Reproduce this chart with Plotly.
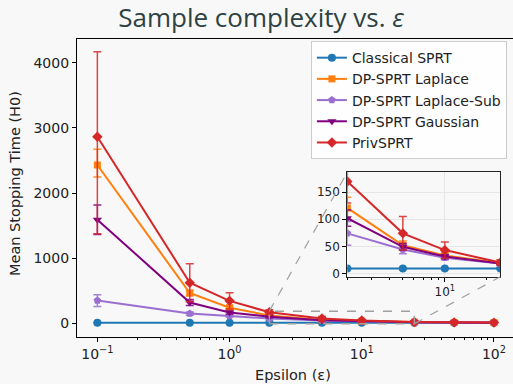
import math
import plotly.graph_objects as go

# ---------------- data ----------------
epsilons = [0.1, 0.5, 1, 2, 5, 10, 25, 50, 100]

series_names = ["Classical SPRT", "DP-SPRT Laplace", "DP-SPRT Laplace-Sub",
                "DP-SPRT Gaussian", "PrivSPRT"]

classical = [9, 9, 9, 9, 9, 9, 9, 9, 9]
classical_err = [1, 1, 1, 1, 1, 1, 1, 1, 1]

laplace = [2430, 465, 240, 121, 52, 33, 19, 14, 11]
laplace_err_up = [240, 40, 25, 20, 8, 5, 3, 2, 1]
laplace_err_dn = [185, 40, 25, 20, 8, 5, 3, 2, 1]

laplace_sub = [350, 150, 112, 74, 44, 29, 18, 13, 10]
laplace_sub_err = [90, 25, 15, 22, 8, 4, 2, 1, 1]

gaussian = [1590, 320, 165, 102, 49, 31, 18, 13, 10]
gaussian_err = [225, 45, 22, 15, 6, 4, 2, 1, 1]

privsprt = [2864, 623, 345, 170, 74, 43, 20, 14, 11]
privsprt_err_up = [1305, 292, 125, 40, 31, 15, 5, 3, 2]
privsprt_err_dn = [1490, 292, 125, 40, 31, 15, 5, 3, 2]

x_tick_vals = [0.1, 1, 10, 100]
x_tick_text = ["10<sup>−1</sup>", "10<sup>0</sup>", "10<sup>1</sup>", "10<sup>2</sup>"]
y_tick_vals = [0, 1000, 2000, 3000, 4000]
inset_y_tick_vals = [0, 50, 100, 150]

# zoom window of the inset (data coordinates)
inset_x = [2, 25]
inset_y = [-6.3, 187]

# ---------------- styling ----------------
W, H = 513, 384
ML, MR, MT, MB = 77, 0, 39, 47
BG = "#f8f8f8"

colors = ["#1f77b4", "#ff7f0e", "#9a6fd0", "#800080", "#d62728"]
symbols = ["circle", "square", "pentagon", "triangle-down", "diamond"]

values = [classical, laplace, laplace_sub, gaussian, privsprt]
err_up = [classical_err, laplace_err_up, laplace_sub_err, gaussian_err, privsprt_err_up]
err_dn = [classical_err, laplace_err_dn, laplace_sub_err, gaussian_err, privsprt_err_dn]

main_xrange = [-1.154, 2.144]
main_yrange = [-210, 4364]
inset_dom_x = [0.620, 0.971]
inset_dom_y = [0.2023, 0.5527]

fig = go.Figure()


def rgba(hexc, a):
    h = hexc.lstrip("#")
    return "rgba(%d,%d,%d,%.2f)" % (int(h[0:2], 16), int(h[2:4], 16), int(h[4:6], 16), a)


for axes, show in (("main", True), ("inset", False)):
    for i, name in enumerate(series_names):
        fig.add_trace(go.Scatter(
            x=epsilons, y=values[i], name=name, mode="lines+markers",
            showlegend=show, legendgroup=name,
            line=dict(color=colors[i], width=2),
            marker=dict(symbol=symbols[i], size=8 if symbols[i] != "square" else 7,
                        color=colors[i], line=dict(width=0)),
            error_y=dict(type="data", symmetric=False, array=err_up[i],
                         arrayminus=err_dn[i], color=rgba(colors[i], 0.85),
                         thickness=1.5, width=4),
            xaxis="x" if axes == "main" else "x2",
            yaxis="y" if axes == "main" else "y2",
            cliponaxis=True,
        ))

# zoom rectangle on the main axes
fig.add_trace(go.Scatter(
    x=[inset_x[0], inset_x[1], inset_x[1], inset_x[0], inset_x[0]],
    y=[inset_y[0], inset_y[0], inset_y[1], inset_y[1], inset_y[0]],
    mode="lines", showlegend=False, hoverinfo="skip",
    line=dict(color="#a0a0a0", width=1.5, dash="dash"),
    xaxis="x", yaxis="y",
))


def main_to_paper(xv, yv):
    px = (math.log10(xv) - main_xrange[0]) / (main_xrange[1] - main_xrange[0])
    py = (yv - main_yrange[0]) / (main_yrange[1] - main_yrange[0])
    return px, py


# connector lines (upper-left and lower-right corners)
ul = main_to_paper(inset_x[0], inset_y[1])
lr = main_to_paper(inset_x[1], inset_y[0])
shapes = [
    dict(type="line", xref="paper", yref="paper", x0=ul[0], y0=ul[1],
         x1=inset_dom_x[0], y1=inset_dom_y[1],
         line=dict(color="#a0a0a0", width=1.2, dash="dash")),
    dict(type="line", xref="paper", yref="paper", x0=lr[0], y0=lr[1],
         x1=inset_dom_x[1], y1=inset_dom_y[0],
         line=dict(color="#a0a0a0", width=1.2, dash="dash")),
    # inset background
    dict(type="rect", xref="paper", yref="paper", x0=inset_dom_x[0], y0=inset_dom_y[0],
         x1=inset_dom_x[1], y1=inset_dom_y[1], fillcolor="white",
         line=dict(width=0), layer="below"),
]

tickfont = dict(family="DejaVu Sans", size=14, color="#222222")
label_font = dict(family="DejaVu Sans", size=14.5, color="#222222")
PH = H - MT - MB

annotations = [
    dict(text="Epsilon (ε)", xref="paper", yref="paper", x=0.496, y=(337 - 375) / PH,
         xanchor="center", yanchor="middle", showarrow=False, font=label_font),
    dict(text="Mean Stopping Time (H0)", xref="paper", yref="paper",
         x=(15 - ML) / (W - ML - MR), y=(337 - 184) / PH, textangle=-90,
         xanchor="center", yanchor="middle", showarrow=False, font=label_font),
]

fig.update_layout(
    width=W, height=H,
    margin=dict(l=ML, r=MR, t=MT, b=MB),
    paper_bgcolor=BG, plot_bgcolor=BG,
    title=dict(text="Sample complexity vs. <i>ε</i>", x=0.509, xanchor="center",
               y=0.954, yanchor="middle",
               font=dict(family="Open Sans", size=26, color="#2d4242")),
    font=dict(family="DejaVu Sans", size=13, color="#222222"),
    showlegend=True,
    legend=dict(x=0.986, y=0.993, xanchor="right", yanchor="top",
                bgcolor="rgba(255,255,255,0.85)", bordercolor="#cccccc",
                borderwidth=1, font=dict(family="DejaVu Sans", size=14, color="#222222"),
                tracegroupgap=0, itemwidth=30),
    xaxis=dict(type="log", range=main_xrange, domain=[0, 1],
               showgrid=False, zeroline=False,
               showline=True, linecolor="black", linewidth=1.2, mirror=True,
               ticks="outside", ticklen=4, tickcolor="black",
               tickvals=x_tick_vals, ticktext=x_tick_text, tickfont=tickfont,
               minor=dict(ticks="outside", ticklen=2, tickcolor="black",
                          tickvals=[0.2, 0.3, 0.4, 0.5, 0.6, 0.7, 0.8, 0.9,
                                    2, 3, 4, 5, 6, 7, 8, 9,
                                    20, 30, 40, 50, 60, 70, 80, 90],
                          showgrid=False)),
    yaxis=dict(range=main_yrange, domain=[0, 1],
               showgrid=False, zeroline=False,
               showline=True, linecolor="black", linewidth=1.2,
               ticks="outside", ticklen=4, tickcolor="black",
               tickvals=y_tick_vals, tickfont=tickfont),
    xaxis2=dict(type="log", range=[math.log10(inset_x[0]), math.log10(inset_x[1])],
                domain=inset_dom_x, anchor="y2",
                showgrid=True, gridcolor="#e6e6e6", gridwidth=1, zeroline=False,
                showline=True, linecolor="#222222", linewidth=1.2, mirror=True,
                ticks="outside", ticklen=4, tickcolor="black",
                tickvals=[10], ticktext=["10<sup>1</sup>"],
                tickfont=dict(family="DejaVu Sans", size=12, color="#222222"),
                minor=dict(ticks="outside", ticklen=2, tickcolor="black",
                           tickvals=[2, 3, 4, 5, 6, 7, 8, 9, 20], showgrid=False)),
    yaxis2=dict(range=inset_y, domain=inset_dom_y, anchor="x2",
                showgrid=True, gridcolor="#e6e6e6", gridwidth=1, zeroline=False,
                showline=True, linecolor="#222222", linewidth=1.2, mirror=True,
                ticks="outside", ticklen=4, tickcolor="black",
                tickvals=inset_y_tick_vals,
                tickfont=dict(family="DejaVu Sans", size=12, color="#222222")),
    shapes=shapes,
    annotations=annotations,
)

fig.write_html("out.html",
               config={"displayModeBar": False},
               post_script="document.body.style.margin='0';"
                           "document.body.style.overflow='hidden';")
